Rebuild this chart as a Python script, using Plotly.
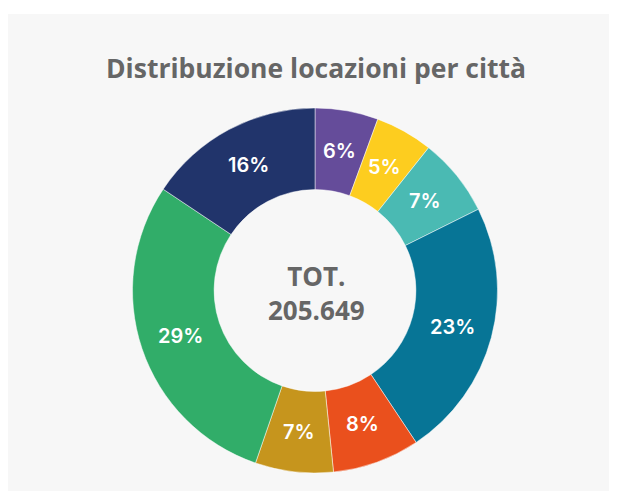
import math
import plotly.graph_objects as go

categories = ["Città 1", "Città 2", "Città 3", "Città 4", "Città 5", "Città 6", "Città 7", "Città 8"]
values = [11500, 10500, 14300, 47300, 15900, 14200, 59800, 32149]
colors = ["#654C9A", "#FDCD1F", "#4ABAB3", "#077596", "#EA501D", "#C6951D", "#31AD69", "#21346B"]
title_text = "Distribuzione locazioni per città"
center_text = "TOT.<br>205.649"

# page has an 8px body margin; figure occupies the remaining area
OFF = 8
W, H = 617 - OFF, 491 - OFF


def px(x):
    return (x - OFF) / W


def py(y):
    return (H - (y - OFF)) / H


CX, CY, R_OUT = 315.0, 290.5, 182.5
HOLE = 0.553
R_LABEL = 142.0

fig = go.Figure(go.Pie(
    labels=categories,
    values=values,
    hole=HOLE,
    sort=False,
    direction="clockwise",
    rotation=0,
    marker=dict(colors=colors, line=dict(color="rgba(255,255,255,0.6)", width=0.8)),
    textinfo="none",
    domain=dict(x=[px(CX - R_OUT), px(CX + R_OUT)], y=[py(CY + R_OUT), py(CY - R_OUT)]),
    showlegend=False,
))

# percentage labels placed at the middle of each slice (computed from values)
total = sum(values)
cum = 0.0
for v in values:
    mid = (cum + v / 2) / total * 2 * math.pi
    cum += v
    lx = CX + R_LABEL * math.sin(mid)
    ly = CY - R_LABEL * math.cos(mid)
    fig.add_annotation(text=f"{round(100 * v / total)}%", xref="paper", yref="paper",
                       x=px(lx), y=py(ly), xanchor="center", yanchor="middle", showarrow=False,
                       font=dict(family="Inter", size=20, color="white", weight=600))

fig.add_shape(type="rect", xref="paper", yref="paper",
              x0=px(7), x1=1, y0=0, y1=py(14),
              fillcolor="#F7F7F7", line=dict(width=0), layer="below")

fig.add_annotation(text=title_text, xref="paper", yref="paper",
                   x=px(316), y=py(68), xanchor="center", yanchor="middle", showarrow=False,
                   font=dict(family="Open Sans", size=26.5, color="#666666", weight=700))
fig.add_annotation(text=center_text, xref="paper", yref="paper",
                   x=px(316), y=py(293), xanchor="center", yanchor="middle", showarrow=False,
                   font=dict(family="Open Sans", size=26, color="#666666", weight=700))

fig.update_layout(width=W, height=H, margin=dict(l=0, r=0, t=0, b=0),
                  paper_bgcolor="white", plot_bgcolor="white")
fig.write_html("out.html")
